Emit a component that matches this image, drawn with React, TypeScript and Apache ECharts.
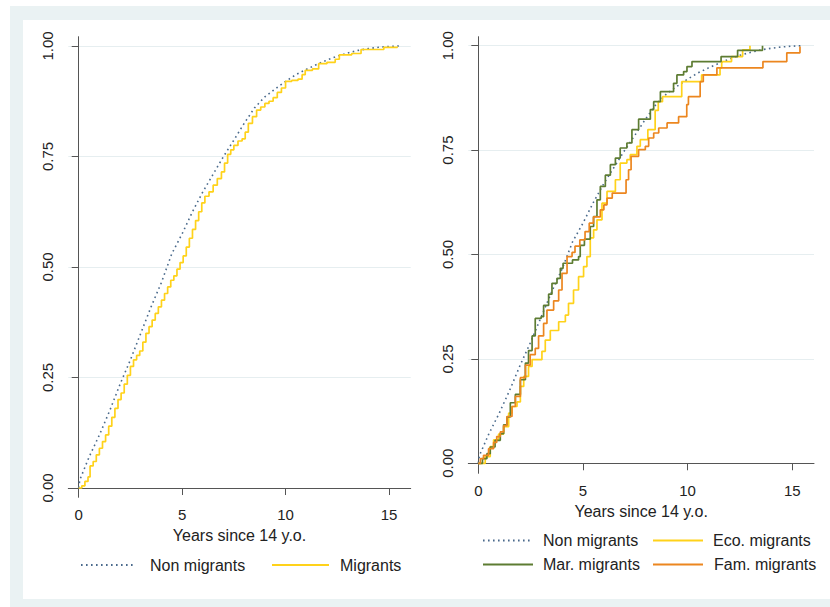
import React, { useEffect, useRef } from "react";
import * as echarts from "echarts";

// ---- Data (years since 14 y.o., cumulative proportion) ----
const X_TICKS = [0, 5, 10, 15];
const Y_TICKS = [0, 0.25, 0.5, 0.75, 1];
const X_TITLE = "Years since 14 y.o.";

const nonMigrants: number[][] = [
  [0, 0], [0.05, 0.018], [0.5, 0.07], [1.0, 0.12], [1.5, 0.175], [2.0, 0.235],
  [2.5, 0.29], [3.0, 0.35], [3.5, 0.41], [4.0, 0.465], [4.5, 0.53], [5.0, 0.575],
  [5.5, 0.625], [6.0, 0.67], [6.5, 0.71], [7.0, 0.75], [7.5, 0.787], [8.0, 0.825],
  [8.5, 0.86], [9.0, 0.885], [9.5, 0.903], [10.0, 0.92], [10.5, 0.935], [11.0, 0.947],
  [11.5, 0.958], [12.0, 0.968], [12.5, 0.977], [13.0, 0.984], [13.5, 0.99],
  [14.0, 0.994], [14.5, 0.997], [15.0, 0.999], [15.5, 1.0],
];

const migrants: number[][] = [
  [0, 0], [0.15, 0.005], [0.3, 0.015], [0.45, 0.025], [0.55, 0.05], [0.7, 0.06],
  [0.85, 0.075], [1.0, 0.09], [1.15, 0.105], [1.3, 0.12], [1.45, 0.14], [1.6, 0.16],
  [1.75, 0.18], [1.9, 0.2], [2.05, 0.215], [2.2, 0.235], [2.35, 0.255], [2.5, 0.275],
  [2.65, 0.29], [2.8, 0.3], [2.95, 0.31], [3.1, 0.33], [3.25, 0.35], [3.4, 0.365],
  [3.55, 0.38], [3.7, 0.395], [3.85, 0.41], [4.0, 0.425], [4.15, 0.44], [4.3, 0.455],
  [4.45, 0.47], [4.6, 0.48], [4.75, 0.495], [4.9, 0.51], [5.05, 0.525], [5.2, 0.545],
  [5.35, 0.565], [5.5, 0.585], [5.65, 0.605], [5.8, 0.625], [5.95, 0.645], [6.1, 0.66],
  [6.3, 0.67], [6.5, 0.685], [6.7, 0.7], [6.9, 0.715], [7.05, 0.735], [7.2, 0.755],
  [7.35, 0.765], [7.5, 0.775], [7.7, 0.785], [7.9, 0.79], [8.05, 0.805], [8.2, 0.825],
  [8.4, 0.84], [8.6, 0.855], [8.8, 0.862], [9.0, 0.87], [9.2, 0.875], [9.4, 0.883],
  [9.6, 0.895], [9.8, 0.905], [10.0, 0.92], [10.3, 0.922], [10.6, 0.925], [10.8, 0.935],
  [10.95, 0.945], [11.3, 0.948], [11.6, 0.96], [12.0, 0.963], [12.4, 0.97], [12.6, 0.98],
  [13.2, 0.983], [13.65, 0.992], [14.75, 0.997], [15.4, 0.999],
];

const ecoMigrants: number[][] = [
  [0, 0], [0.33, 0.016], [0.57, 0.04], [0.73, 0.056], [0.97, 0.07], [1.21, 0.088],
  [1.45, 0.12], [1.61, 0.136], [1.85, 0.147], [2.01, 0.184], [2.17, 0.208], [2.4, 0.232],
  [2.57, 0.248], [3.04, 0.268], [3.2, 0.295], [3.44, 0.318], [3.84, 0.339], [4.16, 0.355],
  [4.31, 0.383], [4.55, 0.415], [4.79, 0.447], [5.03, 0.471], [5.19, 0.495], [5.35, 0.54],
  [5.51, 0.559], [5.67, 0.583], [5.91, 0.623], [6.15, 0.651], [6.55, 0.679], [6.78, 0.719],
  [7.1, 0.727], [7.26, 0.739], [7.58, 0.759], [7.74, 0.775], [8.1, 0.799], [8.45, 0.845],
  [8.6, 0.866], [8.8, 0.878], [9.72, 0.914], [10.67, 0.93], [11.55, 0.947], [11.63, 0.962],
  [12.1, 0.974], [12.63, 0.99], [12.98, 1.0],
];

const marMigrants: number[][] = [
  [0, 0], [0.2, 0.011], [0.41, 0.023], [0.57, 0.039], [0.8, 0.055], [1.05, 0.071],
  [1.21, 0.092], [1.37, 0.111], [1.53, 0.145], [1.77, 0.165], [2.01, 0.2], [2.25, 0.24],
  [2.4, 0.27], [2.57, 0.305], [2.72, 0.347], [3.0, 0.351], [3.12, 0.378], [3.36, 0.405],
  [3.52, 0.431], [3.76, 0.443], [3.92, 0.467], [4.05, 0.479], [4.5, 0.487], [4.79, 0.495],
  [4.87, 0.522], [5.07, 0.537], [5.35, 0.567], [5.51, 0.591], [5.67, 0.631], [5.83, 0.663],
  [6.07, 0.69], [6.31, 0.715], [6.55, 0.731], [6.78, 0.755], [7.1, 0.767], [7.34, 0.799],
  [7.66, 0.824], [8.22, 0.847], [8.38, 0.866], [8.7, 0.89], [9.33, 0.91], [9.49, 0.93],
  [9.81, 0.938], [9.97, 0.95], [10.21, 0.962], [11.6, 0.974], [12.39, 0.989], [13.58, 1.0],
];

const famMigrants: number[][] = [
  [0, 0], [0.1, 0.011], [0.25, 0.019], [0.49, 0.035], [0.73, 0.05], [0.88, 0.064],
  [1.05, 0.075], [1.21, 0.09], [1.37, 0.112], [1.61, 0.136], [1.77, 0.16], [2.01, 0.205],
  [2.25, 0.235], [2.48, 0.26], [2.72, 0.275], [2.88, 0.305], [3.12, 0.335], [3.28, 0.367],
  [3.6, 0.389], [3.84, 0.415], [4.0, 0.455], [4.24, 0.495], [4.48, 0.505], [4.62, 0.52],
  [4.85, 0.535], [5.1, 0.555], [5.3, 0.575], [5.5, 0.59], [5.83, 0.607], [6.0, 0.619],
  [6.15, 0.635], [6.4, 0.647], [7.06, 0.679], [7.18, 0.703], [7.3, 0.735], [7.66, 0.751],
  [7.98, 0.759], [8.14, 0.779], [8.38, 0.791], [8.62, 0.803], [9.02, 0.815], [9.57, 0.83],
  [9.96, 0.859], [10.04, 0.878], [10.6, 0.914], [10.75, 0.93], [11.4, 0.947],
  [13.6, 0.962], [14.74, 0.983], [15.37, 0.998],
];

const FONT = 'Arial, "Liberation Sans", sans-serif';
const C_NON = "#4a6a8c";
const C_YEL = "#ffd21a";
const C_GRN = "#5d7c32";
const C_ORG = "#ec861f";
const AXIS_C = "#555555";
const GRID_C = "#e6eef0";
const TXT = "#222222";

function makeX(gridIndex: number, min: number, max: number) {
  return {
    type: "value",
    gridIndex,
    min,
    max,
    axisLine: { show: true, lineStyle: { color: AXIS_C, width: 1 } },
    axisTick: { show: true, length: 7, customValues: X_TICKS, lineStyle: { color: AXIS_C } },
    axisLabel: {
      customValues: X_TICKS,
      margin: 10,
      fontSize: 15,
      color: TXT,
      fontFamily: FONT,
    },
    splitLine: { show: false },
    name: X_TITLE,
    nameLocation: "middle",
    nameGap: 24,
    nameTextStyle: { fontSize: 16, color: TXT, fontFamily: FONT },
  };
}

function makeY(gridIndex: number, min: number, max: number) {
  return {
    type: "value",
    gridIndex,
    min,
    max,
    axisLine: { show: true, lineStyle: { color: AXIS_C, width: 1 } },
    axisTick: { show: true, length: 7, customValues: Y_TICKS, lineStyle: { color: AXIS_C } },
    axisLabel: {
      customValues: Y_TICKS,
      rotate: 90,
      margin: 13,
      fontSize: 15,
      color: TXT,
      fontFamily: FONT,
      formatter: (v: number) => v.toFixed(2),
    },
    splitLine: { show: true, lineStyle: { color: GRID_C, width: 1.2 } },
  };
}

function lineSeries(name: string, data: number[][], color: string, idx: number, step: boolean, dotted = false) {
  return {
    type: "line",
    name,
    data,
    xAxisIndex: idx,
    yAxisIndex: idx,
    step: step ? "end" : false,
    symbol: "none",
    showSymbol: false,
    lineStyle: dotted
      ? { color, width: 1.6, type: [1.6, 3.4] }
      : { color, width: 1.7 },
    itemStyle: { color },
    emphasis: { disabled: true },
  };
}

function legendItem(name: string, left: number, cy: number, w: number, gap: number) {
  return {
    show: true,
    data: [name],
    left,
    top: cy - 7,
    orient: "horizontal",
    itemWidth: w,
    itemHeight: 14,
    padding: 0,
    selectedMode: false,
    itemStyle: { opacity: 0 },
    textStyle: { fontSize: 16, color: TXT, fontFamily: FONT, padding: [0, 0, 0, gap] },
  };
}

export default function App() {
  const ref = useRef<HTMLDivElement>(null);
  useEffect(() => {
    if (!ref.current) return;
    const chart = echarts.init(ref.current, undefined, { renderer: "svg" });
    const BG = "#eaf2f3";
    chart.setOption({
      animation: false,
      backgroundColor: "#ffffff",
      graphic: [
        { type: "rect", silent: true, shape: { x: 10, y: 6, width: 820, height: 14 }, style: { fill: BG } },
        { type: "rect", silent: true, shape: { x: 10, y: 6, width: 13, height: 601 }, style: { fill: BG } },
        { type: "rect", silent: true, shape: { x: 10, y: 599, width: 820, height: 8 }, style: { fill: BG } },
      ],
      grid: [
        { left: 68.3, top: 36.7, width: 342.4, height: 460.6, outerBoundsMode: "none", containLabel: false },
        { left: 468.3, top: 36.7, width: 345.7, height: 436.6, outerBoundsMode: "none", containLabel: false },
      ],
      xAxis: [makeX(0, -0.503, 16.05), makeX(1, -0.478, 16.04)],
      yAxis: [makeY(0, -0.021, 1.021), makeY(1, -0.024, 1.0216)],
      legend: [
        legendItem("Non migrants", 80, 564, 55, 9),
        legendItem("Migrants", 271, 564, 57, 6),
        legendItem("Non migrants", 482, 539.5, 48, 7),
        legendItem("Eco. migrants", 652, 539.5, 50, 5),
        legendItem("Mar. migrants", 482, 563.5, 50, 5),
        legendItem("Fam. migrants", 652, 563.5, 50, 6),
      ],
      series: [
        lineSeries("Non migrants", nonMigrants, C_NON, 0, false, true),
        lineSeries("Migrants", migrants, C_YEL, 0, true),
        lineSeries("Non migrants", nonMigrants, C_NON, 1, false, true),
        lineSeries("Eco. migrants", ecoMigrants, C_YEL, 1, true),
        lineSeries("Mar. migrants", marMigrants, C_GRN, 1, true),
        lineSeries("Fam. migrants", famMigrants, C_ORG, 1, true),
      ],
    });
    return () => chart.dispose();
  }, []);
  return (
    <div
      ref={ref}
      style={{ position: "absolute", left: 0, top: 0, width: 830, height: 607 }}
    />
  );
}
